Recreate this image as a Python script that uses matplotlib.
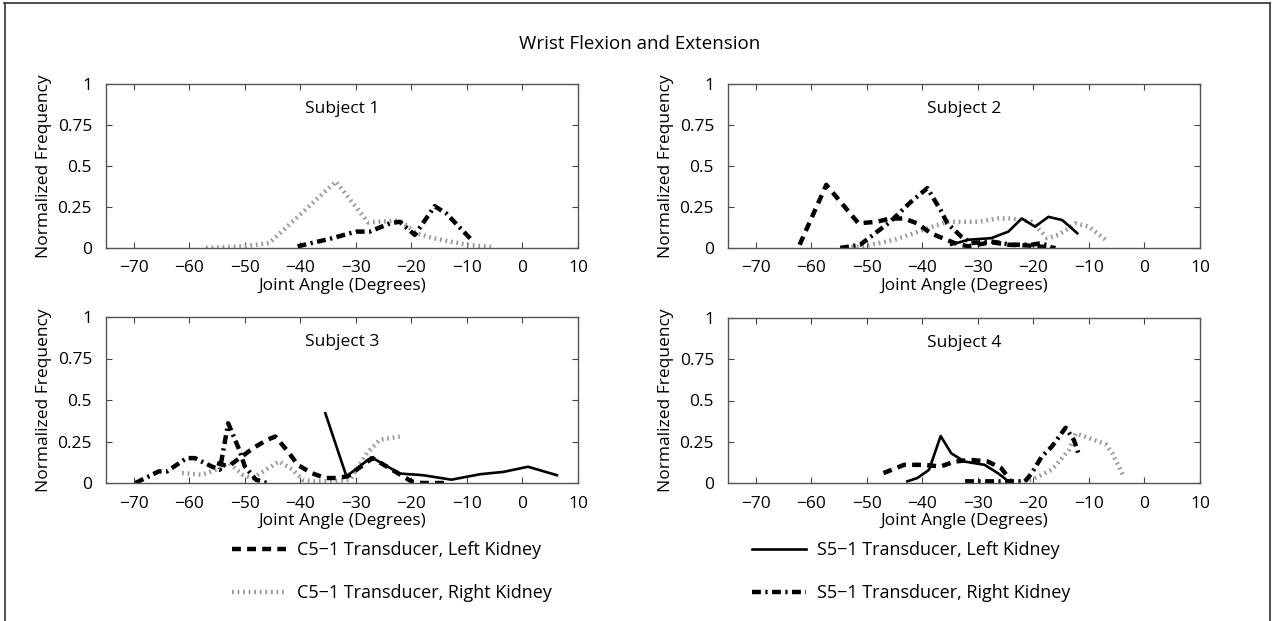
import matplotlib
matplotlib.use("Agg")
import matplotlib.pyplot as plt
from matplotlib.lines import Line2D

plt.rcParams['font.family'] = ['Open Sans', 'DejaVu Sans']

# ---------------- data ----------------
title = "Wrist Flexion and Extension"
subjects = ["Subject 1", "Subject 2", "Subject 3", "Subject 4"]
series_names = ["C5\u22121 Transducer, Left Kidney", "C5\u22121 Transducer, Right Kidney",
                "S5\u22121 Transducer, Left Kidney", "S5\u22121 Transducer, Right Kidney"]
xticks = [-70, -60, -50, -40, -30, -20, -10, 0, 10]
yticks = [0, 0.25, 0.5, 0.75, 1]
ytick_labels = ["0", "0.25", "0.5", "0.75", "1"]

# Subject 1
s1_c5r_x = [-57, -50.4, -45.6, -33.6, -27.8, -22.1, -19.1, -16.1, -10.1, -5.3]
s1_c5r_y = [0.0, 0.01, 0.03, 0.405, 0.156, 0.168, 0.09, 0.06, 0.02, 0.005]
s1_s5r_x = [-40.5, -34.2, -30, -27.5, -23.9, -22.1, -19.4, -15.8, -13.7, -8.9]
s1_s5r_y = [0.01, 0.06, 0.10, 0.10, 0.15, 0.16, 0.08, 0.255, 0.21, 0.04]

# Subject 2
s2_c5l_x = [-62.1, -57.3, -51.5, -48.2, -45.8, -43.3, -40.9, -38.5, -34.2, -31.8, -27.6, -24.5, -20.9, -16.0]
s2_c5l_y = [0.02, 0.385, 0.15, 0.16, 0.18, 0.18, 0.15, 0.09, 0.03, 0.01, 0.035, 0.02, 0.015, 0.0]
s2_c5r_x = [-54.8, -50.6, -45.0, -39.0, -35.5, -30.0, -26.4, -24.0, -20.3, -17.5, -15.5, -12.4, -10.0, -7.0]
s2_c5r_y = [0.0, 0.01, 0.05, 0.12, 0.16, 0.16, 0.18, 0.18, 0.16, 0.06, 0.08, 0.15, 0.13, 0.05]
s2_s5l_x = [-34.8, -31.8, -27.6, -24.5, -22.1, -19.7, -17.3, -14.8, -12.1]
s2_s5l_y = [0.02, 0.05, 0.06, 0.10, 0.18, 0.13, 0.19, 0.17, 0.09]
s2_s5r_x = [-54.8, -51.2, -45.8, -42.1, -39.1, -36.7, -35.5, -33.0, -31.2, -27.6, -24.0, -20.3, -18.5, -16.5]
s2_s5r_y = [0.0, 0.02, 0.16, 0.28, 0.365, 0.23, 0.15, 0.07, 0.03, 0.04, 0.02, 0.02, 0.03, 0.0]

# Subject 3
s3_c5l_x = [-55.0, -53.0, -50.5, -48.5, -46.0, -44.5, -42.0, -40.5, -38.0, -35.5, -33.5, -31.5, -27.0, -22.0, -20.0, -18.0, -14.0]
s3_c5l_y = [0.12, 0.10, 0.16, 0.21, 0.26, 0.28, 0.18, 0.11, 0.06, 0.03, 0.03, 0.04, 0.15, 0.05, 0.01, 0.0, 0.0]
s3_c5r_x = [-61.3, -57.7, -55.2, -52.8, -50.4, -48.6, -46.2, -43.8, -41.4, -39.6, -37.8, -34.0, -31.0, -28.0, -25.7, -22.1]
s3_c5r_y = [0.06, 0.05, 0.08, 0.12, 0.05, 0.03, 0.08, 0.13, 0.08, 0.02, 0.01, 0.01, 0.02, 0.18, 0.26, 0.28]
s3_s5l_x = [-35.5, -31.7, -27.2, -22.1, -17.9, -12.8, -7.6, -3.4, 1.0, 6.2]
s3_s5l_y = [0.42, 0.04, 0.155, 0.057, 0.047, 0.02, 0.053, 0.067, 0.098, 0.047]
s3_s5r_x = [-69.7, -65.5, -64.0, -60.5, -59.0, -56.0, -54.5, -53.0, -51.0, -50.0, -48.0, -46.0]
s3_s5r_y = [0.0, 0.07, 0.07, 0.15, 0.15, 0.10, 0.08, 0.36, 0.20, 0.10, 0.02, 0.0]

# Subject 4
s4_c5l_x = [-47.0, -43.3, -39.7, -36.7, -34.2, -31.2, -28.2, -25.8, -24.2]
s4_c5l_y = [0.06, 0.11, 0.11, 0.10, 0.13, 0.14, 0.13, 0.09, 0.02]
s4_c5r_x = [-22.7, -20.3, -16.7, -13.6, -12.4, -10.6, -7.0, -5.8, -3.9]
s4_c5r_y = [0.01, 0.02, 0.08, 0.20, 0.30, 0.28, 0.235, 0.18, 0.05]
s4_s5l_x = [-42.7, -40.9, -38.8, -36.7, -34.8, -32.4, -28.8, -26.4, -24.5]
s4_s5l_y = [0.01, 0.03, 0.08, 0.285, 0.18, 0.13, 0.11, 0.06, 0.01]
s4_s5r_x = [-32.3, -24.0, -21.5, -20.3, -18.5, -16.7, -14.2, -12.7, -11.8]
s4_s5r_y = [0.01, 0.01, 0.01, 0.06, 0.16, 0.22, 0.335, 0.26, 0.17]

data = [
    {"c5l": None, "c5r": (s1_c5r_x, s1_c5r_y), "s5l": None, "s5r": (s1_s5r_x, s1_s5r_y)},
    {"c5l": (s2_c5l_x, s2_c5l_y), "c5r": (s2_c5r_x, s2_c5r_y), "s5l": (s2_s5l_x, s2_s5l_y), "s5r": (s2_s5r_x, s2_s5r_y)},
    {"c5l": (s3_c5l_x, s3_c5l_y), "c5r": (s3_c5r_x, s3_c5r_y), "s5l": (s3_s5l_x, s3_s5l_y), "s5r": (s3_s5r_x, s3_s5r_y)},
    {"c5l": (s4_c5l_x, s4_c5l_y), "c5r": (s4_c5r_x, s4_c5r_y), "s5l": (s4_s5l_x, s4_s5l_y), "s5r": (s4_s5r_x, s4_s5r_y)},
]

# ---------------- styles ----------------
styles = {
    "c5l": dict(color="black", lw=3.2, linestyle=(0, (2.0, 1.4)), dash_capstyle="butt"),
    "c5r": dict(color="#999999", lw=3.2, linestyle=(0, (0.4, 0.85)), dash_capstyle="butt"),
    "s5l": dict(color="black", lw=1.9, linestyle="-"),
    "s5r": dict(color="black", lw=3.2, linestyle=(0, (2.0, 1.0, 0.5, 1.0)), dash_capstyle="butt"),
}
order = ["c5r", "c5l", "s5r", "s5l"]

W, H = 1274, 621
fig = plt.figure(figsize=(W / 100, H / 100), dpi=100)

# figure border (top, left, right)
fig.add_artist(Line2D([0.003, 0.997], [0.995, 0.995], transform=fig.transFigure, color="#333333", lw=1.2))
fig.add_artist(Line2D([0.004, 0.004], [0.0, 0.995], transform=fig.transFigure, color="#333333", lw=1.2))
fig.add_artist(Line2D([0.997, 0.997], [0.995, 0.0], transform=fig.transFigure, color="#333333", lw=1.2))

fig.text(640 / W, 1 - 44 / H, title, ha="center", va="center", fontsize=13.5)

boxes = [(106, 84, 578, 248), (728, 84, 1200, 248), (106, 317, 578, 483), (728, 318, 1200, 483)]

for i, (l, t, r, b) in enumerate(boxes):
    ax = fig.add_axes([l / W, 1 - b / H, (r - l) / W, (b - t) / H])
    for key in order:
        d = data[i][key]
        if d is not None:
            ax.plot(d[0], d[1], **styles[key])
    ax.set_xlim(-75, 10)
    ax.set_ylim(0, 1)
    ax.set_xticks(xticks)
    ax.set_xticklabels([("\u2212" + str(-v)) if v < 0 else str(v) for v in xticks])
    ax.set_yticks(yticks)
    ax.set_yticklabels(ytick_labels)
    ax.tick_params(axis="x", pad=9)
    ax.tick_params(axis="y", pad=10)
    ax.tick_params(direction="in", length=4, width=0.8, top=True, right=True,
                   labelsize=12.5, colors="#444444", labelcolor="black")
    for sp in ax.spines.values():
        sp.set_color("#555555")
        sp.set_linewidth(1.0)
    ax.text(0.5, 0.85, subjects[i], transform=ax.transAxes, ha="center", va="center", fontsize=12.5)
    ax.set_xlabel("Joint Angle (Degrees)", fontsize=12.5, labelpad=1)
    ax.set_ylabel("Normalized Frequency", fontsize=12.5, labelpad=4)

# legends
def handle(key):
    return Line2D([], [], **styles[key])

leg1 = fig.legend([handle("c5l"), handle("c5r")], series_names[:2], loc="upper left",
                  bbox_to_anchor=(225 / W, 1 - 534 / H), frameon=False, fontsize=13,
                  handlelength=3.0, handletextpad=0.6, labelspacing=1.4, borderaxespad=0)
leg2 = fig.legend([handle("s5l"), handle("s5r")], series_names[2:], loc="upper left",
                  bbox_to_anchor=(745 / W, 1 - 534 / H), frameon=False, fontsize=13,
                  handlelength=3.0, handletextpad=0.6, labelspacing=1.4, borderaxespad=0)

fig.savefig("out.png", dpi=100)
